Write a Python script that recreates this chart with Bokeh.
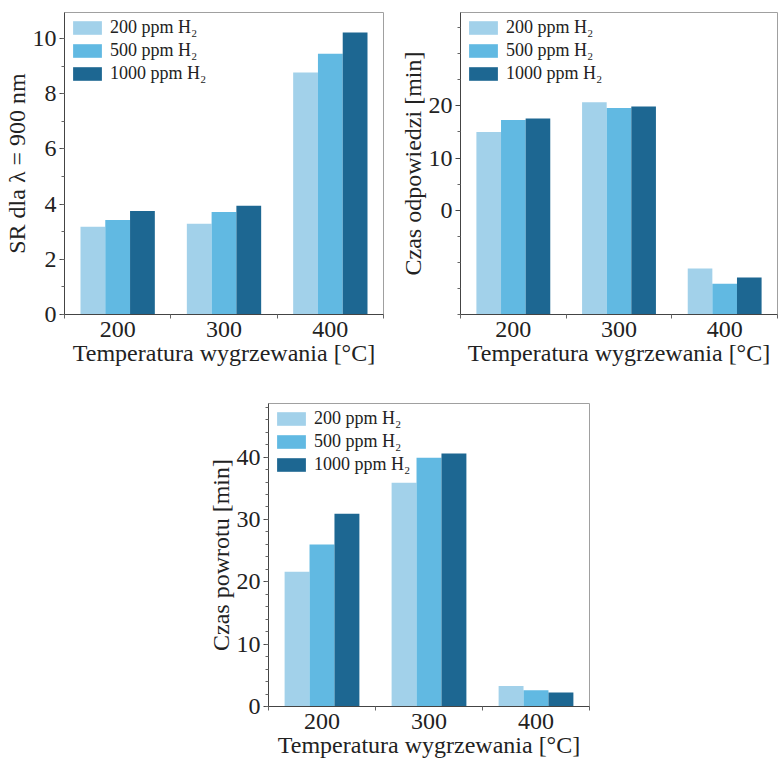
from bokeh.plotting import figure
from bokeh.models import (Range1d, FixedTicker, SingleIntervalTicker, Legend, Spacer)
from bokeh.layouts import column, row
from bokeh.embed import file_html
from bokeh.resources import INLINE

categories = ["200", "300", "400"]
series = ["200 ppm H₂", "500 ppm H₂", "1000 ppm H₂"]
colors = ["#a2d1ea", "#61b9e2", "#1d6792"]

sr_200 = [3.18, 3.29, 8.77]
sr_500 = [3.42, 3.71, 9.45]
sr_1000 = [3.75, 3.94, 10.22]

odp_200 = [15.0, 20.7, -11.2]
odp_500 = [17.3, 19.6, -14.1]
odp_1000 = [17.6, 19.9, -12.9]

pow_200 = [21.6, 35.9, 3.3]
pow_500 = [26.0, 39.9, 2.6]
pow_1000 = [30.9, 40.6, 2.25]

FONT = "Liberation Serif"
xlabel = "Temperatura wygrzewania [°C]"


def make(width, height, borders, yrange, yticker, ylabel, data, bottom):
    l, r, t, b = borders
    p = figure(width=width, height=height, output_backend="svg", toolbar_location=None,
               x_range=Range1d(0, 3), y_range=Range1d(*yrange),
               min_border_left=l, min_border_right=r, min_border_top=t, min_border_bottom=b)
    p.grid.visible = False
    p.outline_line_color = "#a0a0a0"
    p.outline_line_width = 1
    p.background_fill_color = "white"
    p.border_fill_color = "white"
    width_bar = 0.233
    offsets = [-width_bar, 0.0, width_bar]
    renderers = []
    for vals, off, col, name in zip(data, offsets, colors, series):
        xs = [i + 0.5 + off for i in range(len(categories))]
        rr = p.vbar(x=xs, top=vals, bottom=bottom, width=width_bar, fill_color=col,
                    line_color=None)
        renderers.append((name, [rr]))
    legend = Legend(items=renderers, location="top_left")
    legend.glyph_width = 36
    legend.glyph_height = 17
    legend.label_height = 17
    legend.label_text_font = FONT
    legend.label_text_font_size = "18px"
    legend.label_text_color = "#222222"
    legend.label_standoff = 5
    legend.spacing = 2
    legend.padding = 2
    legend.margin = 3
    legend.border_line_alpha = 0
    legend.background_fill_alpha = 0
    p.add_layout(legend, "center")

    xa = p.xaxis[0]
    xa.ticker = FixedTicker(ticks=[0.5, 1.5, 2.5], minor_ticks=[0, 1, 2, 3])
    xa.major_label_overrides = {0.5: "200", 1.5: "300", 2.5: "400"}
    xa.major_tick_out = 0
    xa.major_tick_in = 0
    xa.minor_tick_out = 4
    xa.minor_tick_in = 0
    xa.axis_label = xlabel
    ya = p.yaxis[0]
    ya.ticker = yticker
    ya.axis_label = ylabel
    ya.major_tick_out = 5
    ya.major_tick_in = 0
    ya.minor_tick_out = 3
    ya.minor_tick_in = 0
    for ax in (xa, ya):
        ax.axis_line_color = "#444444"
        ax.major_tick_line_color = "#444444"
        ax.minor_tick_line_color = "#666666"
        ax.major_label_text_font = FONT
        ax.major_label_text_font_size = "24px"
        ax.major_label_text_color = "#222222"
        ax.axis_label_text_font = FONT
        ax.axis_label_text_font_size = "24px"
        ax.axis_label_text_font_style = "normal"
        ax.axis_label_text_color = "#222222"
        ax.axis_label_standoff = 0
        ax.major_label_standoff = 3
    return p


p1 = make(390, 380, (63, 7, 12, 65), (0, 10.94),
          SingleIntervalTicker(interval=2, num_minor_ticks=2),
          "SR dla λ = 900 nm", [sr_200, sr_500, sr_1000], 0)
p2 = make(388, 380, (70, 1, 10, 66), (-20, 37.9),
          FixedTicker(ticks=[0, 10, 20], minor_ticks=[-20, -15, -10, -5, 5, 15, 25, 30, 35]),
          "Czas odpowiedzi [min]", [odp_200, odp_500, odp_1000], -20)
p3 = make(400, 385, (68, 11, 23, 59), (0, 48.6),
          SingleIntervalTicker(interval=10, num_minor_ticks=5),
          "Czas powrotu [min]", [pow_200, pow_500, pow_1000], 0)

layout = column(row(p1, p2), row(Spacer(width=200, height=385), p3))
open("out.html", "w").write(file_html(layout, INLINE))
